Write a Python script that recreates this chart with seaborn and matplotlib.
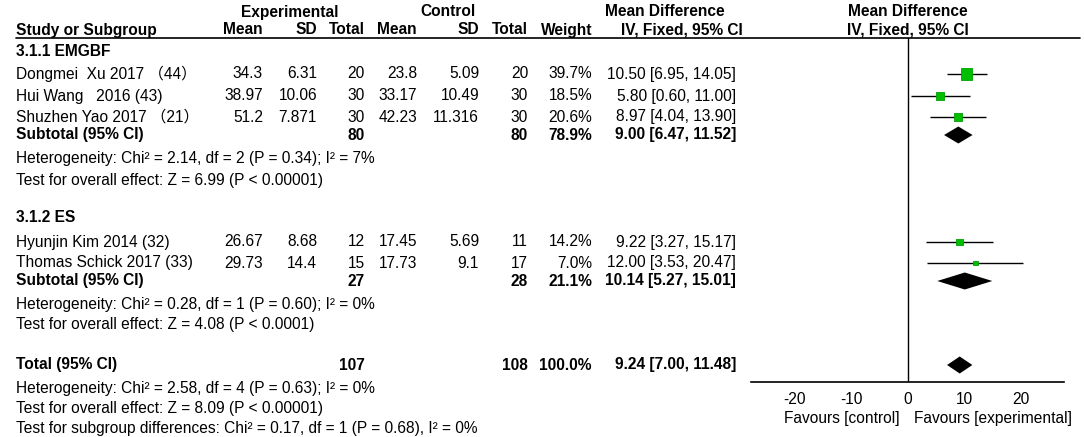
import matplotlib
import pandas as pd
import seaborn as sns

matplotlib.use("Agg")
import matplotlib.pyplot as plt


# study level data
studies = ["Dongmei  Xu 2017 （44）", "Hui Wang   2016 (43)", "Shuzhen Yao 2017 （21）",
           "Hyunjin Kim 2014 (32)", "Thomas Schick 2017 (33)"]
exp_mean = [34.3, 38.97, 51.2, 26.67, 29.73]
exp_sd = [6.31, 10.06, 7.871, 8.68, 14.4]
exp_n = [20, 30, 30, 12, 15]
ctl_mean = [23.8, 33.17, 42.23, 17.45, 17.73]
ctl_sd = [5.09, 10.49, 11.316, 5.69, 9.1]
ctl_n = [20, 30, 30, 11, 17]
weight = [39.7, 18.5, 20.6, 14.2, 7.0]
md = [10.50, 5.80, 8.97, 9.22, 12.00]
ci_lo = [6.95, 0.60, 4.04, 3.27, 3.53]
ci_hi = [14.05, 11.00, 13.90, 15.17, 20.47]

# subgroup + overall pooled data
group_names = ["3.1.1 EMGBF", "3.1.2 ES"]
pooled_label = ["Subtotal (95% CI)", "Subtotal (95% CI)", "Total (95% CI)"]
pooled_exp_n = [80, 27, 107]
pooled_ctl_n = [80, 28, 108]
pooled_weight = [78.9, 21.1, 100.0]
pooled_md = [9.00, 10.14, 9.24]
pooled_lo = [6.47, 5.27, 7.00]
pooled_hi = [11.52, 15.01, 11.48]
heterogeneity = [
    "Heterogeneity: Chi² = 2.14, df = 2 (P = 0.34); I² = 7%",
    "Heterogeneity: Chi² = 0.28, df = 1 (P = 0.60); I² = 0%",
    "Heterogeneity: Chi² = 2.58, df = 4 (P = 0.63); I² = 0%",
]
overall_effect = [
    "Test for overall effect: Z = 6.99 (P < 0.00001)",
    "Test for overall effect: Z = 4.08 (P < 0.0001)",
    "Test for overall effect: Z = 8.09 (P < 0.00001)",
]
subgroup_test = "Test for subgroup differences: Chi² = 0.17, df = 1 (P = 0.68), I² = 0%"

x_ticks = [-20, -10, 0, 10, 20]

# layout (pixel rows/columns of the 1084x437 canvas)
W, H = 1084, 437
Y_HDR1, Y_HDR2, Y_LINE, Y_AXIS = 12, 30, 37.5, 382
Y_GROUP = [51, 218]
Y_STUDY = [74, 96, 117, 242, 263]
Y_POOLED = [135, 281, 365]
Y_HET = [158, 305, 388]
Y_TEST = [180, 325, 408]
Y_SUBTEST = 429
X_LEFT = 16
COL_RIGHT = [263, 317, 365, 417, 479, 528, 592, 736]
FOREST_X0, FOREST_X1 = 751, 1064
FS = 11.2

sns.set_style("white")
plt.rcParams["font.family"] = ["Liberation Sans", "Noto Sans CJK SC", "DejaVu Sans"]
plt.rcParams["font.size"] = FS

fig = plt.figure(figsize=(W / 100, H / 100), dpi=100)
tab = fig.add_axes([0, 0, 1, 1])
tab.set_xlim(0, W)
tab.set_ylim(H, 0)
tab.axis("off")


def txt(x, y, s, ha="left", bold=False):
    tab.text(x, y, s, ha=ha, va="center", fontsize=FS,
             fontweight="bold" if bold else "normal", color="black")


def fmt(v):
    return f"{v:g}"


# header
txt(290, Y_HDR1, "Experimental", ha="center", bold=True)
txt(448, Y_HDR1, "Control", ha="center", bold=True)
txt(665, Y_HDR1, "Mean Difference", ha="center", bold=True)
txt(908, Y_HDR1, "Mean Difference", ha="center", bold=True)
txt(X_LEFT, Y_HDR2, "Study or Subgroup", bold=True)
for x, s in zip(COL_RIGHT[:7], ["Mean", "SD", "Total", "Mean", "SD", "Total", "Weight"]):
    txt(x, Y_HDR2, s, ha="right", bold=True)
txt(743, Y_HDR2, "IV, Fixed, 95% CI", ha="right", bold=True)
txt(908, Y_HDR2, "IV, Fixed, 95% CI", ha="center", bold=True)
tab.plot([X_LEFT, 1080], [Y_LINE, Y_LINE], color="black", lw=1.2)

# study rows
for i, name in enumerate(studies):
    y = Y_STUDY[i]
    txt(X_LEFT, y, name)
    cells = [fmt(exp_mean[i]), fmt(exp_sd[i]), str(exp_n[i]),
             fmt(ctl_mean[i]), fmt(ctl_sd[i]), str(ctl_n[i]),
             f"{weight[i]:.1f}%", f"{md[i]:.2f} [{ci_lo[i]:.2f}, {ci_hi[i]:.2f}]"]
    for x, s in zip(COL_RIGHT, cells):
        txt(x, y, s, ha="right")

for g, name in enumerate(group_names):
    txt(X_LEFT, Y_GROUP[g], name, bold=True)

# pooled rows
for k in range(3):
    y = Y_POOLED[k]
    txt(X_LEFT, y, pooled_label[k], bold=True)
    txt(COL_RIGHT[2], y, str(pooled_exp_n[k]), ha="right", bold=True)
    txt(COL_RIGHT[5], y, str(pooled_ctl_n[k]), ha="right", bold=True)
    txt(COL_RIGHT[6], y, f"{pooled_weight[k]:.1f}%", ha="right", bold=True)
    txt(COL_RIGHT[7], y, f"{pooled_md[k]:.2f} [{pooled_lo[k]:.2f}, {pooled_hi[k]:.2f}]",
        ha="right", bold=True)
    txt(X_LEFT, Y_HET[k], heterogeneity[k])
    txt(X_LEFT, Y_TEST[k], overall_effect[k])
txt(X_LEFT, Y_SUBTEST, subgroup_test)

# forest panel, y in canvas pixel rows so it lines up with the table
ax = fig.add_axes([FOREST_X0 / W, (H - Y_AXIS) / H,
                   (FOREST_X1 - FOREST_X0) / W, (Y_AXIS - Y_LINE) / H])
ax.set_xlim(-27.7, 27.7)
ax.set_ylim(Y_AXIS, Y_LINE)
ax.patch.set_alpha(0)

df = pd.DataFrame({"md": md, "y": Y_STUDY, "weight": weight,
                   "lo": ci_lo, "hi": ci_hi})
ax.hlines(df["y"], df["lo"], df["hi"], color="black", lw=1)
sns.scatterplot(data=df, x="md", y="y", size="weight", sizes=(0, 66),
                size_norm=(0, max(weight)), marker="s", color="#00bf00",
                edgecolor="#00a000", linewidth=0.6, legend=False, ax=ax, zorder=3)

half_h = 8.5
for k in range(3):
    y = Y_POOLED[k]
    ax.fill([pooled_lo[k], pooled_md[k], pooled_hi[k], pooled_md[k]],
            [y, y - half_h, y, y + half_h], color="black", lw=0)

ax.axvline(0, color="black", lw=1)
for side in ["left", "right", "top"]:
    ax.spines[side].set_visible(False)
ax.spines["bottom"].set_linewidth(1.2)
ax.spines["bottom"].set_color("black")
ax.set_yticks([])
ax.set_xticks(x_ticks)
ax.set_xticklabels([str(t) for t in x_ticks], fontsize=FS)
ax.tick_params(axis="x", direction="inout", length=10, width=1, pad=2, colors="black")
ax.set_xlabel("")
ax.set_ylabel("")

txt(900, 418, "Favours [control]", ha="right")
txt(914, 418, "Favours [experimental]")

fig.savefig("out.png", dpi=100)
